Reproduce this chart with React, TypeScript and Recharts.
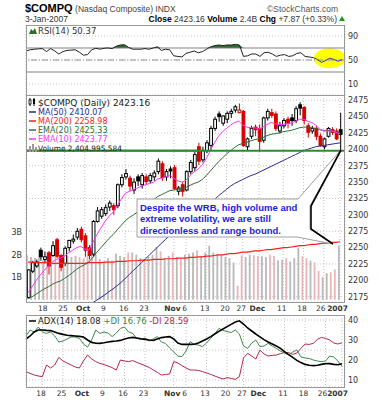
import React from 'react';
import {
  ComposedChart, Bar, Line, Area, XAxis, YAxis, CartesianGrid,
  ReferenceLine, ReferenceDot, ReferenceArea,
} from 'recharts';

const dates = [
  'Sep 12','Sep 13','Sep 14','Sep 15','Sep 18','Sep 19','Sep 20','Sep 21','Sep 22','Sep 25','Sep 26','Sep 27','Sep 28','Sep 29',
  'Oct 2','Oct 3','Oct 4','Oct 5','Oct 6','Oct 9','Oct 10','Oct 11','Oct 12','Oct 13','Oct 16','Oct 17','Oct 18','Oct 19','Oct 20','Oct 23','Oct 24','Oct 25','Oct 26','Oct 27','Oct 30','Oct 31',
  'Nov 1','Nov 2','Nov 3','Nov 6','Nov 7','Nov 8','Nov 9','Nov 10','Nov 13','Nov 14','Nov 15','Nov 16','Nov 17','Nov 20','Nov 21','Nov 22','Nov 24','Nov 27','Nov 28','Nov 29','Nov 30',
  'Dec 1','Dec 4','Dec 5','Dec 6','Dec 7','Dec 8','Dec 11','Dec 12','Dec 13','Dec 14','Dec 15','Dec 18','Dec 19','Dec 20','Dec 21','Dec 22','Dec 26','Dec 27','Dec 28','Dec 29',
  'Jan 3',
];

const openP = [2174,2214,2222,2246,2232,2242,2238,2262,2238,2226,2250,2260,2266,2278,2268,2250,2240,2290,2298,2302,2312,2314,2314,2346,2358,2356,2338,2358,2346,2358,2352,2358,2366,2378,2358,2370,2372,2336,2346,2338,2366,2372,2404,2384,2398,2406,2432,2454,2440,2446,2455,2460,2456,2458,2404,2420,2434,2432,2414,2448,2456,2454,2428,2436,2446,2448,2444,2468,2464,2436,2428,2432,2420,2404,2420,2430,2428,2430];
const highP = [2217,2230,2232,2250,2244,2245,2260,2265,2240,2252,2262,2270,2280,2282,2272,2254,2292,2312,2312,2316,2322,2318,2348,2362,2370,2360,2356,2362,2364,2362,2364,2368,2386,2382,2370,2374,2376,2344,2350,2368,2384,2396,2410,2404,2414,2436,2450,2458,2452,2458,2462,2468,2470,2460,2418,2436,2438,2438,2450,2462,2462,2458,2442,2448,2450,2454,2466,2472,2466,2440,2436,2436,2424,2418,2434,2434,2432,2456];
const lowP = [2172,2211,2219,2230,2226,2209,2236,2234,2214,2222,2244,2256,2262,2258,2236,2232,2236,2288,2294,2298,2306,2300,2310,2342,2354,2336,2332,2344,2340,2346,2348,2352,2362,2352,2352,2356,2338,2330,2328,2336,2362,2366,2376,2380,2394,2398,2428,2442,2436,2440,2448,2456,2455,2404,2398,2416,2420,2396,2410,2444,2448,2428,2424,2432,2432,2436,2440,2452,2438,2418,2424,2414,2404,2400,2418,2422,2414,2396];
const closeP = [2216,2227,2228,2236,2236,2222,2253,2237,2220,2249,2261,2263,2275,2262,2246,2238,2290,2306,2308,2311,2318,2308,2346,2357,2363,2344,2350,2352,2360,2351,2360,2364,2382,2357,2366,2367,2340,2341,2336,2366,2380,2392,2382,2398,2410,2432,2446,2450,2451,2455,2458,2465,2460,2406,2416,2432,2430,2412,2448,2458,2452,2432,2436,2444,2440,2444,2462,2463,2444,2426,2432,2420,2406,2416,2432,2426,2416,2423];
const volumeB = [1.98,1.9,1.85,2.25,1.75,2.1,1.95,2.05,1.9,1.85,1.95,1.9,1.95,1.9,1.85,1.95,2.2,2.0,1.8,1.7,1.85,1.75,2.05,1.95,1.9,2.1,2.1,2.0,1.85,1.8,1.9,2.0,2.35,2.15,1.85,1.95,2.1,1.9,1.8,2.0,2.05,2.1,2.2,1.95,2.1,2.4,2.1,2.05,2.0,1.9,1.85,1.65,0.62,1.98,1.9,2.0,1.98,1.95,1.93,1.9,2.0,1.95,1.75,1.78,1.85,1.7,1.85,2.3,1.93,1.85,1.74,1.66,1.28,1.0,1.18,1.22,1.35,2.4];
const ma50 = [null,null,null,null,null,null,null,null,null,null,null,null,null,null,2158,2162,2166,2170,2174,2178,2183,2187,2192,2197,2203,2209,2215,2221,2227,2233,2239,2245,2251,2257,2263,2269,2274,2279,2284,2289,2294,2299,2304,2309,2313,2318,2323,2329,2334,2339,2344,2348,2351,2354,2357,2360,2362,2365,2368,2371,2374,2377,2380,2383,2386,2389,2392,2395,2398,2400,2402,2404,2405,2406,2407,2408,2409,2410];
const ma200 = [2228,2228,2227,2227,2227,2227,2226,2226,2226,2226,2226,2226,2226,2226,2226,2227,2227,2227,2227,2228,2228,2228,2229,2229,2229,2230,2230,2230,2231,2231,2231,2232,2232,2232,2233,2233,2233,2234,2234,2234,2235,2235,2236,2236,2237,2237,2238,2239,2239,2240,2241,2241,2242,2243,2243,2244,2245,2245,2246,2247,2247,2248,2249,2250,2250,2251,2252,2253,2253,2254,2255,2255,2256,2257,2257,2258,2258,2259];
const ema20 = [2172,2175,2179,2183,2187,2190,2194,2197,2199,2203,2207,2212,2217,2221,2224,2228,2235,2243,2250,2257,2264,2270,2277,2284,2291,2296,2300,2304,2309,2314,2319,2323,2328,2331,2334,2337,2338,2339,2340,2342,2345,2348,2350,2354,2360,2367,2374,2381,2387,2393,2398,2403,2407,2409,2411,2413,2415,2416,2418,2421,2423,2424,2425,2427,2428,2429,2431,2433,2434,2434,2433,2432,2430,2429,2429,2428,2427,2425];
const ema10 = [2181,2190,2200,2208,2215,2222,2228,2232,2234,2237,2242,2246,2250,2252,2248,2246,2258,2270,2280,2290,2298,2304,2314,2324,2333,2336,2339,2341,2344,2346,2348,2350,2355,2356,2358,2360,2356,2352,2350,2353,2360,2366,2370,2376,2386,2398,2410,2420,2427,2432,2437,2441,2443,2437,2434,2433,2433,2431,2434,2438,2441,2439,2438,2438,2439,2440,2443,2446,2446,2443,2441,2437,2431,2428,2428,2428,2426,2424];
const rsi14 = [65,67,68,68.5,69,64,69,65,60,64,66,66.5,67,63,58,59,67,69.5,68,69.5,70,69,73,75,75.5,71,68,68,68,69,68,70,72,66,68,67,57,56,55,61,63,65,62,64,68,72,74,75,74,75,75,76,75,56,57,60,60,56,62,63,60,56,58,59,56,57,61,62,56,55,54,51,46,49,53,51,48,50.4];
const adx14 = [30.5,32,34,35,35,34.8,34.7,34,33.3,32.8,32.4,32.2,32,31.8,31.5,30,28.8,28.4,28.3,28.6,29,29.3,29.5,29.8,30.5,31,31.3,31,30.6,30.3,30,29.8,30.5,31.2,31.5,31.7,30.5,28.5,27.8,27.8,27.8,27.9,28.5,29.5,30.5,31.7,33,34.3,35.5,36.7,37.8,39,39.6,38,36,34.5,33,31.6,30.2,29,28,27,25.8,24.2,22.7,21.3,19.8,18.7,17.8,17.4,17.2,17.4,17.8,18.2,18.2,17.8,17.6,18.08];
const plusDI = [32,35,34,36.5,34,33.3,34,32,29,29.5,30.5,31.5,31.5,30.8,28,26.5,30,35,33.3,34,33.5,31.7,33.5,35.8,36.5,34,33.3,30.8,30.3,31,29.5,30.5,31.7,29,28.3,26,24,22,21.7,24.5,29.2,27.8,27.5,26.7,28.5,30.8,33,35.8,34.8,34.2,33.7,35,33,27,25.8,28.5,30,26.7,27,28.3,27,25.8,24.5,23.5,22.5,24,25,21.5,21,20.8,20,19.5,19.2,19.5,22,21.5,19.5,16.76];
const minusDI = [14.2,13.3,12.5,12,11.7,17.5,16,17.5,21.3,19.5,18.5,17.5,16.5,16,19.5,22.5,20.5,19.2,18.3,17.7,17,16.2,15,20,19.5,19.2,19.7,18.8,18,17.2,16.3,15,13.8,12.5,12.8,13,19.2,18.5,17.2,16,15,15,14.8,14.2,13.5,12.8,12,11.2,10.5,11.2,10.8,10.3,11.7,21,23.3,22,20.5,25,23,22,22.3,22.5,23.2,23.7,23.7,22.8,23.5,25.8,28,27.8,28.3,30.3,31.3,30.8,30,28.5,28,28.59];

const tickDates = ['Sep 18','Sep 25','Oct 2','Oct 9','Oct 16','Oct 23','Nov 1','Nov 6','Nov 13','Nov 20','Nov 27','Dec 1','Dec 11','Dec 18','Dec 26','Jan 3'];
const tickLabels = ['18','25','Oct','9','16','23','Nov','6','13','20','27','Dec','11','18','26','2007'];
const priceTicks = [2175,2200,2225,2250,2275,2300,2325,2350,2375,2400,2425,2450,2475];
const volTicks = [1e9,2e9,3e9];
const rsiTicks = [10,30,50,70,90];
const adxTicks = [10,15,20,25,30,35,40];

const rows = dates.map((d, i) => ({
  d,
  o: openP[i], h: highP[i], l: lowP[i], c: closeP[i],
  pc: i > 0 ? closeP[i - 1] : null,
  v: volumeB[i] * 1e9,
  ma50: ma50[i], ma200: ma200[i], ema20: ema20[i], ema10: ema10[i],
  rsi: rsi14[i],
  rsiA: i <= 70 ? rsi14[i] : null,
  rsiB: i >= 70 ? rsi14[i] : null,
  adx: adx14[i], pdi: plusDI[i], mdi: minusDI[i],
}));

const FONT = 'DejaVu Sans, Verdana, sans-serif';
const ARIAL = 'Liberation Sans, Arial, sans-serif';
const GRID = '#c4c4c4';

const Candle = (props: any) => {
  const { x, y, width, height, payload } = props;
  if (x == null || y == null) return null;
  const top = Math.min(y, y + height);
  const h = Math.abs(height);
  const { o, h: hi, l, c, pc } = payload;
  const toY = (v: number) => top + ((hi - v) / (hi - l)) * h;
  const cx = x + width / 2;
  const color = pc != null && c < pc ? '#d80000' : '#000000';
  const hollow = c > o;
  const yo = toY(o);
  const yc = toY(c);
  const bt = Math.min(yo, yc);
  const bh = Math.max(1, Math.abs(yc - yo));
  return (
    <g>
      <line x1={cx} x2={cx} y1={top} y2={top + h} stroke={color} strokeWidth={1} />
      <rect x={cx - 1.4} y={bt} width={2.8} height={bh} fill={hollow ? '#ffffff' : color} stroke={color} strokeWidth={1} />
    </g>
  );
};

const VolBar = (props: any) => {
  const { x, y, width, height, payload } = props;
  if (x == null || y == null) return null;
  const down = payload.pc != null && payload.c < payload.pc;
  return <rect x={x} y={Math.min(y, y + height)} width={width} height={Math.abs(height)} fill={down ? '#e8b6b8' : '#b9b9b9'} />;
};

const XTick = (props: any) => {
  const { x, y, payload } = props;
  const k = tickDates.indexOf(payload.value);
  if (k < 0) return null;
  const lab = tickLabels[k];
  const bold = /[A-Za-z]/.test(lab) || lab === '2007';
  if (lab === '2007') {
    return (
      <text x={348} y={y + 9} textAnchor="end" fontSize={7.5} fontWeight="bold" fill="#333" fontFamily={FONT}>{lab}</text>
    );
  }
  const dx = lab === '26' ? -3 : -1.5;
  return (
    <text x={x + dx} y={y + 9} textAnchor="middle" fontSize={7.5} fontWeight={bold ? 'bold' : 'normal'} fill="#333" fontFamily={FONT}>
      {lab}
    </text>
  );
};

const Ellipse = (props: any) => {
  const { cx, cy } = props;
  if (cx == null || cy == null) return null;
  return <ellipse cx={cx} cy={cy} rx={16} ry={10} fill="#ffff00" />;
};

const yTick = { fontSize: 8, fill: '#333', fontFamily: FONT };

export default function App() {
  return (
    <div style={{ position: 'absolute', left: 0, top: 0, width: 382, height: 400, background: '#fff', overflow: 'hidden' }}>
      {/* RSI highlight underlay (drawn beneath the RSI line) */}
      <div style={{ position: 'absolute', left: 0, top: 25 }}>
        <ComposedChart width={382} height={70} data={rows} margin={{ top: 0, right: 0, bottom: 0, left: 26 }}>
          <XAxis dataKey="d" type="category" ticks={tickDates} interval={0} height={0} tick={false} axisLine={false} tickLine={false} padding={{ left: 0, right: 3 }} />
          <YAxis yAxisId="r" orientation="right" width={37} domain={[-8.3, 108.3]} ticks={rsiTicks} tick={false} tickLine={false} axisLine={false} tickSize={0} tickMargin={3} />
          <Line yAxisId="r" dataKey="rsi" stroke="none" strokeOpacity={0} dot={false} isAnimationActive={false} />
          <ReferenceDot yAxisId="r" x="Dec 27" y={53} shape={Ellipse} ifOverflow="visible" />
        </ComposedChart>
      </div>
      {/* RSI panel */}
      <div style={{ position: 'absolute', left: 0, top: 25 }}>
        <ComposedChart width={382} height={70} data={rows} margin={{ top: 0, right: 0, bottom: 0, left: 26 }}>
          <XAxis dataKey="d" type="category" ticks={tickDates} interval={0} height={0} tick={false} axisLine={false} tickLine={false} padding={{ left: 0, right: 3 }} />
          <YAxis yAxisId="r" orientation="right" width={37} domain={[-8.3, 108.3]} ticks={rsiTicks} tick={yTick} tickLine={false} axisLine={false} tickSize={0} tickMargin={3} />
          <CartesianGrid yAxisId="r" stroke={GRID} strokeDasharray="1 2" />
          <ReferenceLine yAxisId="r" y={70} stroke="#808080" />
          <ReferenceLine yAxisId="r" y={50} stroke="#909090" strokeDasharray="6 2 1 2" />
          <ReferenceLine yAxisId="r" y={30} stroke="#808080" />
          <Area yAxisId="r" dataKey={(r: any) => [70, Math.max(70, r.rsi)]} stroke="none" fill="#2f6a2f" fillOpacity={1} isAnimationActive={false} />
          <Line yAxisId="r" dataKey="rsiA" stroke="#222" strokeWidth={1} dot={false} isAnimationActive={false} />
          <Line yAxisId="r" dataKey="rsiB" stroke="#3030c8" strokeWidth={1} dot={false} isAnimationActive={false} />
        </ComposedChart>
      </div>

      {/* Price panel */}
      <div style={{ position: 'absolute', left: 0, top: 95 }}>
        <ComposedChart width={382} height={220} data={rows} margin={{ top: 0, right: 0, bottom: 0, left: 0 }}>
          <XAxis dataKey="d" type="category" ticks={tickDates} interval={0} height={13} tick={<XTick />} axisLine={false} tickLine={false} tickSize={0} tickMargin={0} padding={{ left: 0, right: 3 }} />
          <YAxis yAxisId="v" orientation="left" width={26} domain={[-0.1e9, 9.1e9]} ticks={volTicks} tickFormatter={(v: number) => `${v / 1e9}B`} tick={yTick} tickLine={false} axisLine={false} tickSize={0} tickMargin={4} />
          <YAxis yAxisId="p" orientation="right" width={37} domain={[2167, 2483]} allowDataOverflow ticks={priceTicks} tick={yTick} tickLine={false} axisLine={false} tickSize={0} tickMargin={3} />
          <CartesianGrid yAxisId="p" stroke={GRID} strokeDasharray="1 2" />
          <Bar yAxisId="v" dataKey="v" barSize={3.6} shape={<VolBar />} isAnimationActive={false} />
          <Line yAxisId="p" dataKey="ma200" stroke="#ff2020" strokeWidth={1.2} dot={false} isAnimationActive={false} />
          <Line yAxisId="p" dataKey="ma50" stroke="#2a2a90" strokeWidth={1} dot={false} isAnimationActive={false} />
          <Line yAxisId="p" dataKey="ema20" stroke="#2f6b36" strokeWidth={1} dot={false} isAnimationActive={false} />
          <Line yAxisId="p" dataKey="ema10" stroke="#ff33ff" strokeWidth={1} dot={false} isAnimationActive={false} />
          <Bar yAxisId="p" dataKey={(r: any) => [r.l, r.h]} barSize={3} shape={<Candle />} isAnimationActive={false} />
          <ReferenceLine yAxisId="p" y={2398} stroke="#2e8b2e" strokeWidth={2} />
          <ReferenceArea yAxisId="p" x1="Sep 12" x2="Nov 10" y1={2396.6} y2={2399.6} fill="#ff0000" fillOpacity={1} stroke="none" />
        </ComposedChart>
      </div>

      {/* ADX panel */}
      <div style={{ position: 'absolute', left: 0, top: 315 }}>
        <ComposedChart width={382} height={85} data={rows} margin={{ top: 0, right: 0, bottom: 0, left: 26 }}>
          <XAxis dataKey="d" type="category" ticks={tickDates} interval={0} height={13} tick={<XTick />} axisLine={false} tickLine={false} tickSize={0} tickMargin={0} padding={{ left: 0, right: 3 }} />
          <YAxis yAxisId="a" orientation="right" width={37} domain={[6.5, 42.5]} ticks={adxTicks} tick={yTick} tickLine={false} axisLine={false} tickSize={0} tickMargin={3} />
          <CartesianGrid yAxisId="a" stroke={GRID} strokeDasharray="1 2" />
          <Line yAxisId="a" dataKey="mdi" stroke="#b8284a" strokeWidth={1} dot={false} isAnimationActive={false} />
          <Line yAxisId="a" dataKey="pdi" stroke="#3a8a4a" strokeWidth={1} dot={false} isAnimationActive={false} />
          <Line yAxisId="a" dataKey="adx" stroke="#000" strokeWidth={1.6} dot={false} isAnimationActive={false} />
        </ComposedChart>
      </div>

      {/* Overlay: frames, header, legends, callout */}
      <svg width={382} height={400} style={{ position: 'absolute', left: 0, top: 0, pointerEvents: 'none' }}>
        <rect x={26.5} y={25.5} width={318} height={70} fill="none" stroke="#999" />
        <rect x={26.5} y={95.5} width={318} height={207} fill="none" stroke="#999" />
        <rect x={26.5} y={315.5} width={318} height={72} fill="none" stroke="#999" />

        <text x={25} y={12} fontFamily={ARIAL} fontSize={11} fontWeight="bold" fill="#000">
          $COMPQ<tspan fontWeight="normal" fontSize={8.5} fill="#444"> (Nasdaq Composite) INDX</tspan>
        </text>
        <text x={338} y={12} textAnchor="end" fontFamily={ARIAL} fontSize={8.5} fill="#555">©StockCharts.com</text>
        <text x={25} y={22} fontFamily={ARIAL} fontSize={8.5} fill="#333">3-Jan-2007</text>
        <text x={337} y={22} textAnchor="end" fontFamily={ARIAL} fontSize={8.5} fill="#333">
          <tspan fontWeight="bold" fill="#000">Close</tspan> 2423.16 <tspan fontWeight="bold" fill="#000">Volume</tspan> 2.4B <tspan fontWeight="bold" fill="#000">Chg</tspan> +7.87 (+0.33%)
        </text>
        <path d="M339,21 L345,21 L342,16 Z" fill="#1a9a1a" />

        {/* RSI legend */}
        <path d="M29,34 L31,29 L33,31 L35,28 L37,34 Z" fill="#2f6a2f" />
        <text x={38} y={33.5} fontFamily={FONT} fontSize={8.5} fill="#333">RSI(14) 50.37</text>

        {/* price legend */}
        <line x1={30} x2={30} y1={98} y2={106} stroke="#000" />
        <rect x={29} y={100} width={2} height={4} fill="#fff" stroke="#000" strokeWidth={0.8} />
        <line x1={34} x2={34} y1={98} y2={106} stroke="#000" />
        <rect x={33} y={99} width={2} height={5} fill="#000" />
        <text x={38} y={105.5} fontFamily={FONT} fontSize={9} fill="#222">$COMPQ (Daily) 2423.16</text>
        <line x1={29} x2={36} y1={112} y2={112} stroke="#2a2a90" strokeWidth={1.5} />
        <text x={38} y={115} fontFamily={FONT} fontSize={8} fill="#2a2a90">MA(50) 2410.07</text>
        <line x1={29} x2={36} y1={121} y2={121} stroke="#ff2020" strokeWidth={1.5} />
        <text x={38} y={124} fontFamily={FONT} fontSize={8} fill="#ff2020">MA(200) 2258.98</text>
        <line x1={29} x2={36} y1={130} y2={130} stroke="#2f6b36" strokeWidth={1.5} />
        <text x={38} y={133} fontFamily={FONT} fontSize={8} fill="#2f6b36">EMA(20) 2425.33</text>
        <line x1={29} x2={36} y1={139} y2={139} stroke="#ff33ff" strokeWidth={1.5} />
        <text x={38} y={142} fontFamily={FONT} fontSize={8} fill="#ff33ff">EMA(10) 2423.77</text>
        <rect x={29} y={146} width={2} height={6} fill="#999" />
        <rect x={32} y={144} width={2} height={8} fill="#999" />
        <rect x={35} y={147} width={2} height={5} fill="#999" />
        <text x={38} y={151} fontFamily={FONT} fontSize={7.4} fill="#222">Volume 2,404,995,584</text>

        {/* ADX legend */}
        <line x1={29} x2={36} y1={321} y2={321} stroke="#000" strokeWidth={1.5} />
        <text x={38} y={324} fontFamily={FONT} fontSize={8.5} fill="#222">
          ADX(14) 18.08 <tspan fill="#3a8a4a">+DI 16.76</tspan> <tspan fill="#b8284a">-DI 28.59</tspan>
        </text>

        {/* callout */}
        <polygon points="137,199 298,199 341,150 310,206 310,229 333,244 297,237 137,237" fill="#fff" stroke="#a0a0a0" strokeWidth={1} />
        <polyline points="341,150 311,206 311,229 333,244" fill="none" stroke="#000" strokeWidth={1.6} />
        <text fontFamily={ARIAL} fontSize={9.5} fontWeight="bold" fill="#1c1ce0">
          <tspan x={140} y={210.5}>Despite the WRB, high volume and</tspan>
          <tspan x={140} y={222}>extreme volatility, we are still</tspan>
          <tspan x={140} y={233.5}>directionless and range bound.</tspan>
        </text>
      </svg>
    </div>
  );
}
